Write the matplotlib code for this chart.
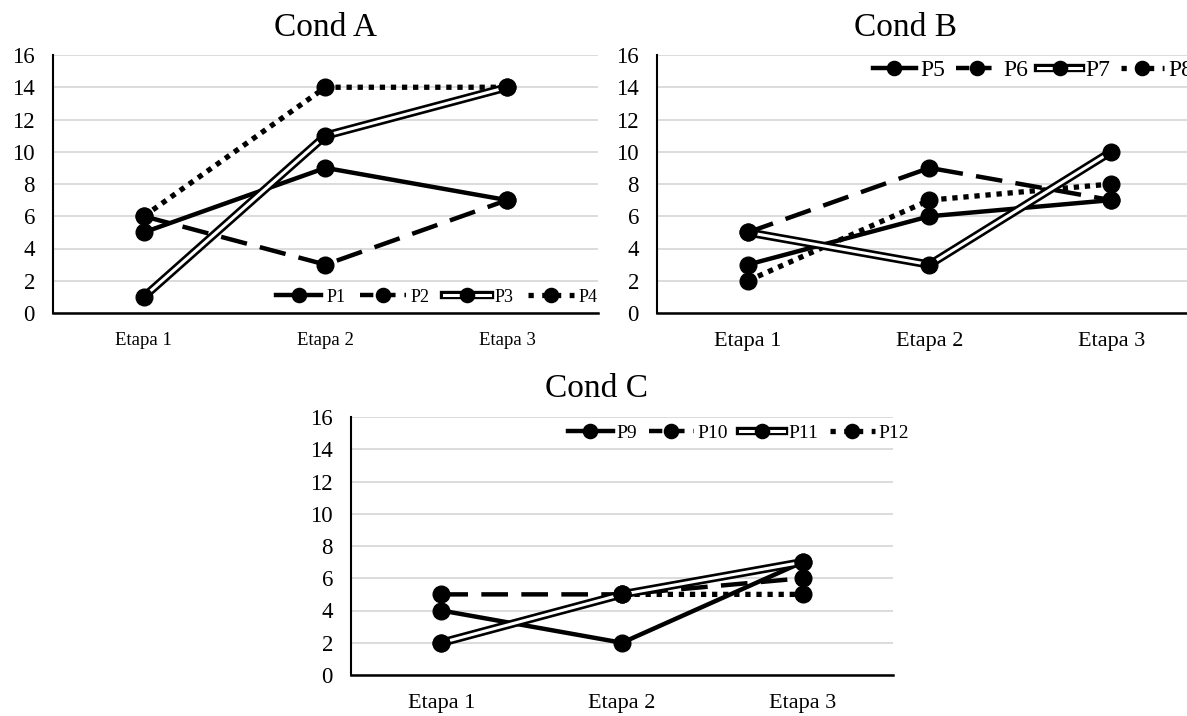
import matplotlib
matplotlib.use("Agg")
import matplotlib.pyplot as plt
from matplotlib.lines import Line2D
from matplotlib.legend_handler import HandlerTuple

plt.rcParams['font.family'] = ['Liberation Serif', 'DejaVu Serif']

stages = ["Etapa 1", "Etapa 2", "Etapa 3"]
y_ticks = [0, 2, 4, 6, 8, 10, 12, 14, 16]

# Condition A
names_a = ["P1", "P2", "P3", "P4"]
p1 = [5, 9, 7]
p2 = [6, 3, 7]
p3 = [1, 11, 14]
p4 = [6, 14, 14]

# Condition B
names_b = ["P5", "P6", "P7", "P8"]
p5 = [3, 6, 7]
p6 = [5, 9, 7]
p7 = [5, 3, 10]
p8 = [2, 7, 8]

# Condition C
names_c = ["P9", "P10", "P11", "P12"]
p9 = [4, 2, 7]
p10 = [5, 5, 6]
p11 = [2, 5, 7]
p12 = [2, 5, 5]

W, H = 1187, 716
fig = plt.figure(figsize=(W / 100, H / 100), dpi=100)

LW = 3.2
MS = 12
DASH = (0, (6, 3))
DOT = (0, (1, 1.1))


def px_axes(left, right, top, bottom):
    return fig.add_axes([left / W, 1 - bottom / H, (right - left) / W, (bottom - top) / H])


def style(ax, xfs):
    ax.set_ylim(0, 16)
    ax.set_xlim(-0.5, 2.5)
    ax.set_yticks(y_ticks)
    ax.set_xticks(range(len(stages)))
    ax.set_xticklabels(stages)
    ax.grid(axis='y', color='#d9d9d9', lw=1.3)
    ax.set_axisbelow(True)
    for s in ('top', 'right'):
        ax.spines[s].set_visible(False)
    ax.spines['left'].set_linewidth(1.5)
    ax.spines['bottom'].set_linewidth(1.8)
    ax.tick_params(axis='y', length=0, pad=13, labelsize=16.5)
    ax.tick_params(axis='x', length=0, pad=14, labelsize=xfs)


def draw(ax, series):
    x = range(len(stages))
    handles = []
    for vals, kind in series:
        if kind == 'solid':
            ax.plot(x, vals, color='black', lw=LW, zorder=3)
            h = Line2D([], [], color='black', lw=LW, marker='o', ms=MS * 0.85)
        elif kind == 'dashed':
            ax.plot(x, vals, color='black', lw=LW, ls=DASH, zorder=3)
            h = Line2D([], [], color='black', lw=LW, ls=(0, (3, 2)), marker='o', ms=MS * 0.85)
        elif kind == 'double':
            ax.plot(x, vals, color='black', lw=6, zorder=3)
            ax.plot(x, vals, color='white', lw=2.2, zorder=3.5)
            h = (Line2D([], [], color='black', lw=6),
                 Line2D([], [], color='white', lw=2.2),
                 Line2D([], [], color='black', ls='none', marker='o', ms=MS * 0.85))
        else:
            ax.plot(x, vals, color='black', lw=LW + 0.6, ls=DOT, zorder=3)
            h = Line2D([], [], color='black', lw=LW + 0.6, ls=(0, (1, 1.6)), marker='o', ms=MS * 0.85)
        ax.plot(x, vals, ls='none', marker='o', color='black', ms=MS, zorder=5)
        handles.append(h)
    return handles


kinds = ['solid', 'dashed', 'double', 'dotted']

# Panel A
ax_a = px_axes(53, 598, 55, 313)
style(ax_a, 13.5)
h_a = draw(ax_a, list(zip([p1, p2, p3, p4], kinds)))
fig.legend(h_a, names_a, loc='center right', bbox_to_anchor=(598 / W, 1 - 297 / H),
           ncol=4, frameon=False, fontsize=13, handlelength=2.5, handletextpad=0.3,
           columnspacing=0.8, borderpad=0, borderaxespad=0, numpoints=1,
           handler_map={tuple: HandlerTuple(ndivide=1)})
fig.text(325 / W, 1 - 28 / H, "Cond A", ha='center', va='center', fontsize=24)

# Panel B
ax_b = px_axes(657, 1202, 55, 313)
style(ax_b, 16)
h_b = draw(ax_b, list(zip([p5, p6, p7, p8], kinds)))
fig.legend(h_b, names_b, loc='center left', bbox_to_anchor=(873 / W, 1 - 70 / H),
           ncol=4, frameon=False, fontsize=17, handlelength=1.8, handletextpad=0.2,
           columnspacing=0.45, borderpad=0, borderaxespad=0, numpoints=1,
           handler_map={tuple: HandlerTuple(ndivide=1)})
fig.text(906 / W, 1 - 28 / H, "Cond B", ha='center', va='center', fontsize=24)

# Panel C
ax_c = px_axes(351, 893, 417, 675)
style(ax_c, 16)
h_c = draw(ax_c, list(zip([p9, p10, p11, p12], kinds)))
fig.legend(h_c, names_c, loc='center left', bbox_to_anchor=(568 / W, 1 - 433 / H),
           ncol=4, frameon=False, fontsize=14, handlelength=2.3, handletextpad=0.2,
           columnspacing=0.6, borderpad=0, borderaxespad=0, numpoints=1,
           handler_map={tuple: HandlerTuple(ndivide=1)})
fig.text(597 / W, 1 - 389 / H, "Cond C", ha='center', va='center', fontsize=24)

fig.savefig("out.png", dpi=100)
